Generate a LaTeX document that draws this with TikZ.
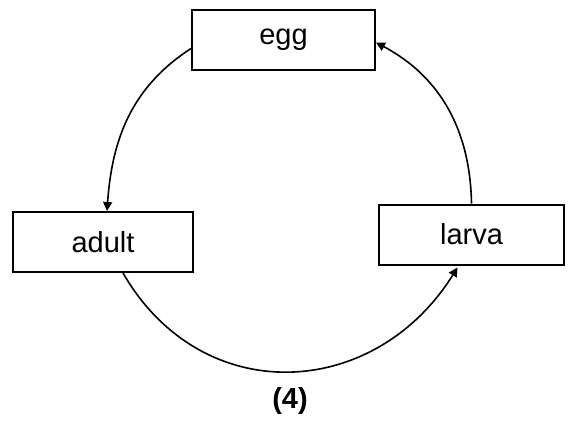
\documentclass[tikz,border=0pt]{standalone}
\usepackage{fontspec}
\setmainfont{Liberation Sans}
\usetikzlibrary{arrows.meta}

\begin{document}
\begin{tikzpicture}[
  x=0.5pt, y=-0.5pt,
  stage/.style={draw, line width=1pt, minimum width=91.5pt, minimum height=30pt,
                inner sep=0pt, font=\fontsize{14.5}{17}\selectfont},
  cycle/.style={line width=0.8pt, -{Triangle[length=4.5pt, width=4.5pt]}},
  caption/.style={font=\fontsize{14.5}{17}\selectfont\bfseries},
]

\useasboundingbox (0,0) rectangle (568,423);

\node[stage] (egg) at (283.5, 39.5) {egg};
\node[stage, minimum width=90pt] (adult) at (103, 242) {adult};
\node[stage, minimum width=92.5pt] (larva) at (471.5, 234.5) {larva};

\draw[cycle] ([yshift=-4.5pt]egg.west) to[out=213, in=86] ([xshift=2pt]adult.north);
\draw[cycle] ([xshift=10pt]adult.south) to[out=-60, in=-122, looseness=1.2] ([xshift=-7pt, yshift=-1pt]larva.south);
\draw[cycle] (larva.north) to[out=91, in=-28] ([yshift=-1.5pt]egg.east);

\node[caption] (label) at (290, 401) {(4)};

\end{tikzpicture}
\end{document}
